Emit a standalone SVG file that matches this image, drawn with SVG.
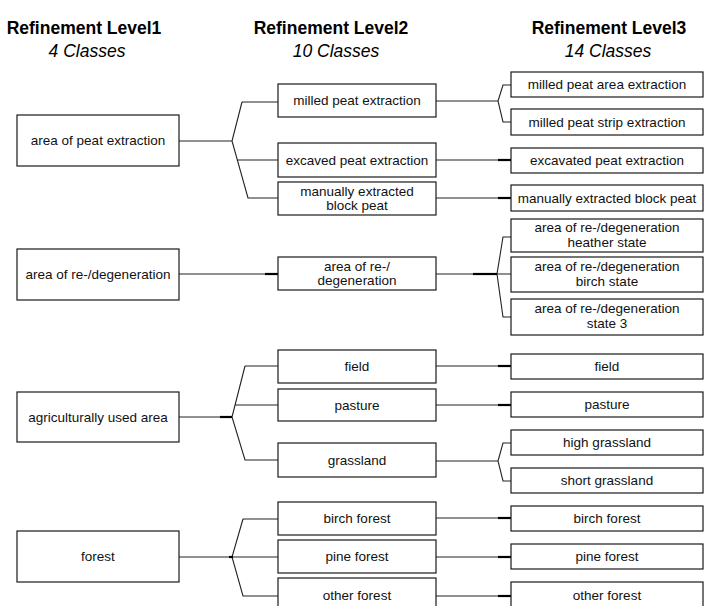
<svg xmlns="http://www.w3.org/2000/svg" width="704" height="606" viewBox="0 0 704 606">
<style>
.box{fill:#fff;stroke:#1a1a1a;stroke-width:1.2}
.t{font-family:"Liberation Sans",Arial,sans-serif;font-size:13.5px;fill:#111;text-anchor:middle}
.h{font-family:"Liberation Sans",Arial,sans-serif;font-size:17.5px;font-weight:bold;fill:#000;text-anchor:middle}
.s{font-family:"Liberation Sans",Arial,sans-serif;font-size:17.5px;font-style:italic;fill:#000;text-anchor:middle}
.c{fill:none;stroke:#222;stroke-width:1.1}
.k{fill:none;stroke:#000;stroke-width:2.2}
</style>
<rect width="704" height="606" fill="#fff"/>
<g id="headings">
<text class="h" x="84" y="34">Refinement Level1</text>
<text class="s" x="87" y="57">4 Classes</text>
<text class="h" x="331" y="34">Refinement Level2</text>
<text class="s" x="336" y="57">10 Classes</text>
<text class="h" x="609" y="34">Refinement Level3</text>
<text class="s" x="608" y="57">14 Classes</text>
</g>
<g id="connectors">
<path class="c" d="M179,141H232M242,102L232,141L248,198H278M242,102H278M237,160H278"/>
<path class="c" d="M179,274H265"/><path class="k" d="M265,274H278"/>
<path class="c" d="M179,417H220M245,366L232,417L245,460H278M245,366H278M235,405H278"/><path class="k" d="M220,417H232"/>
<path class="c" d="M179,557H278M243,519L232,557L243,596H278M243,519H278"/><path class="k" d="M229,557H233"/>
<path class="c" d="M436,101H498M511,85H503L498,101L503,122H511"/>
<path class="c" d="M436,160H498"/><path class="k" d="M498,160H511"/>
<path class="c" d="M436,198H498"/><path class="k" d="M498,198H511"/>
<path class="c" d="M436,274H473M511,237H503L497,274L503,317H511M497,274H511"/><path class="k" d="M473,274H497"/>
<path class="c" d="M436,366H498"/><path class="k" d="M498,366H511"/>
<path class="c" d="M436,405H498"/><path class="k" d="M498,405H511"/>
<path class="c" d="M436,461H498M511,443H503L498,461L503,481H511"/>
<path class="c" d="M436,518H498"/><path class="k" d="M498,518H511"/>
<path class="c" d="M436,557H498"/><path class="k" d="M498,557H511"/>
<path class="c" d="M436,596H498"/><path class="k" d="M498,596H511"/>
</g>
<g id="l1-peat"><rect class="box" x="17" y="115" width="162" height="51"/><text class="t" x="98" y="145">area of peat extraction</text></g>
<g id="l1-regen"><rect class="box" x="17" y="249" width="162" height="51"/><text class="t" x="98" y="279">area of re-/degeneration</text></g>
<g id="l1-agri"><rect class="box" x="17" y="392" width="162" height="50"/><text class="t" x="98" y="422">agriculturally used area</text></g>
<g id="l1-forest"><rect class="box" x="17" y="531" width="162" height="51"/><text class="t" x="98" y="561">forest</text></g>

<g id="l2-milled"><rect class="box" x="278" y="84" width="158" height="33"/><text class="t" x="357" y="105">milled peat extraction</text></g>
<g id="l2-excaved"><rect class="box" x="278" y="143" width="158" height="34"/><text class="t" x="357" y="165">excaved peat extraction</text></g>
<g id="l2-manual"><rect class="box" x="278" y="182" width="158" height="33"/><text class="t" x="357" y="196">manually extracted</text><text class="t" x="357" y="210">block peat</text></g>
<g id="l2-regen"><rect class="box" x="278" y="257" width="158" height="33"/><text class="t" x="357" y="271">area of re-/</text><text class="t" x="357" y="285">degeneration</text></g>
<g id="l2-field"><rect class="box" x="278" y="350" width="158" height="33"/><text class="t" x="357" y="371">field</text></g>
<g id="l2-pasture"><rect class="box" x="278" y="389" width="158" height="32"/><text class="t" x="357" y="410">pasture</text></g>
<g id="l2-grass"><rect class="box" x="278" y="443" width="158" height="34"/><text class="t" x="357" y="465">grassland</text></g>
<g id="l2-birch"><rect class="box" x="278" y="502" width="158" height="33"/><text class="t" x="357" y="523">birch forest</text></g>
<g id="l2-pine"><rect class="box" x="278" y="540" width="158" height="33"/><text class="t" x="357" y="561">pine forest</text></g>
<g id="l2-other"><rect class="box" x="278" y="578" width="158" height="36"/><text class="t" x="357" y="600">other forest</text></g>

<g id="l3-millarea"><rect class="box" x="511" y="72" width="192" height="25"/><text class="t" x="607" y="89">milled peat area extraction</text></g>
<g id="l3-millstrip"><rect class="box" x="511" y="109" width="192" height="26"/><text class="t" x="607" y="127">milled peat strip extraction</text></g>
<g id="l3-excav"><rect class="box" x="511" y="148" width="192" height="25"/><text class="t" x="607" y="165">excavated peat extraction</text></g>
<g id="l3-manual"><rect class="box" x="511" y="185" width="192" height="26"/><text class="t" x="607" y="203">manually extracted block peat</text></g>
<g id="l3-heather"><rect class="box" x="511" y="219" width="192" height="33"/><text class="t" x="607" y="232">area of re-/degeneration</text><text class="t" x="607" y="247">heather state</text></g>
<g id="l3-birchst"><rect class="box" x="511" y="257" width="192" height="35"/><text class="t" x="607" y="271">area of re-/degeneration</text><text class="t" x="607" y="286">birch state</text></g>
<g id="l3-state3"><rect class="box" x="511" y="299" width="192" height="36"/><text class="t" x="607" y="313">area of re-/degeneration</text><text class="t" x="607" y="328">state 3</text></g>
<g id="l3-field"><rect class="box" x="511" y="354" width="192" height="25"/><text class="t" x="607" y="371">field</text></g>
<g id="l3-pasture"><rect class="box" x="511" y="392" width="192" height="25"/><text class="t" x="607" y="409">pasture</text></g>
<g id="l3-high"><rect class="box" x="511" y="430" width="192" height="25"/><text class="t" x="607" y="447">high grassland</text></g>
<g id="l3-short"><rect class="box" x="511" y="468" width="192" height="25"/><text class="t" x="607" y="485">short grassland</text></g>
<g id="l3-birch"><rect class="box" x="511" y="506" width="192" height="25"/><text class="t" x="607" y="523">birch forest</text></g>
<g id="l3-pine"><rect class="box" x="511" y="544" width="192" height="25"/><text class="t" x="607" y="561">pine forest</text></g>
<g id="l3-other"><rect class="box" x="511" y="582" width="192" height="30"/><text class="t" x="607" y="600">other forest</text></g>
</svg>
